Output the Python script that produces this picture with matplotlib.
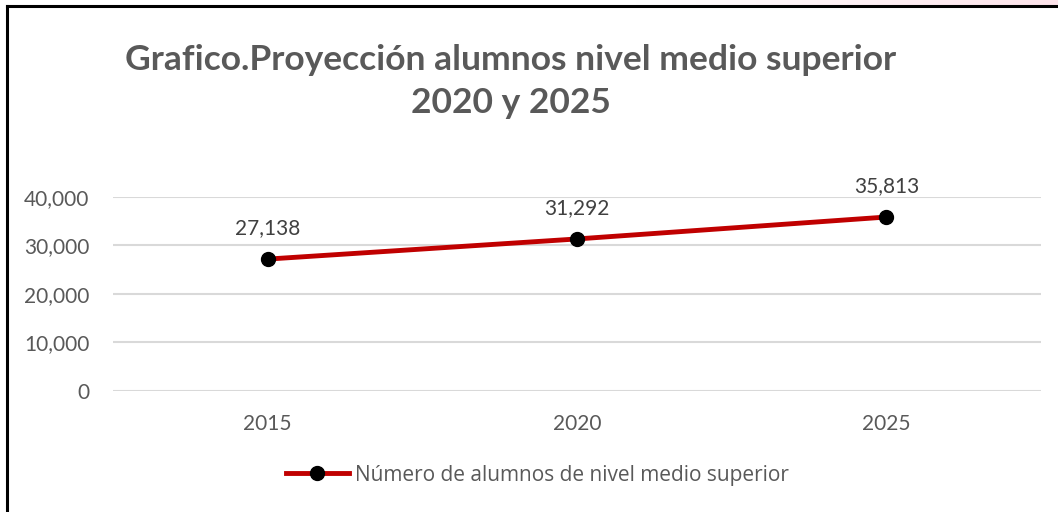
import numpy as np
import matplotlib.pyplot as plt
from matplotlib.ticker import FuncFormatter
from matplotlib.lines import Line2D

years = ['2015', '2020', '2025']
alumnos = [27138, 31292, 35813]
serie = 'Número de alumnos de nivel medio superior'
titulo = 'Grafico.Proyección alumnos nivel medio superior\n2020 y 2025'

gris = '#595959'
rojo = '#C00000'

plt.rcParams['font.family'] = ['Lato', 'DejaVu Sans']

fig = plt.figure(figsize=(10.58, 5.12), dpi=100)

# pink strip at the top right (background behind the frame)
grad = np.linspace(0, 1, 256).reshape(1, -1)
bg = fig.add_axes([0.6, 0.988, 0.4, 0.012])
bg.imshow(grad, aspect='auto', cmap=plt.matplotlib.colors.LinearSegmentedColormap.from_list(
    'p', ['#ffffff', '#fde3ea']), extent=[0, 1, 0, 1])
bg.axis('off')

# frame lines (left and top)
fig.add_artist(Line2D([0.0068, 0.0068], [0, 0.989], color='k', lw=2.2))
fig.add_artist(Line2D([0.0068, 1.0], [0.989, 0.989], color='k', lw=2.2))

ax = fig.add_axes([0.1068, 0.2369, 0.8772, 0.3789])
x = np.arange(len(years))
ax.plot(x, alumnos, color=rojo, lw=3.5, marker='o', ms=10,
        markerfacecolor='k', markeredgecolor='k', solid_capstyle='round', zorder=3)

for xi, v in zip(x, alumnos):
    ax.annotate(f'{v:,}', (xi, v), xytext=(0, 22), textcoords='offset points',
                ha='center', va='center', fontsize=15, color='#404040')

ax.set_xlim(-0.5, len(years) - 0.5)
ax.set_ylim(0, 40000)
ax.set_yticks([0, 10000, 20000, 30000, 40000])
ax.yaxis.set_major_formatter(FuncFormatter(lambda v, p: f'{int(v):,}'))
ax.set_xticks(x)
ax.set_xticklabels(years)
ax.tick_params(axis='both', length=0, labelsize=15, labelcolor=gris)
ax.tick_params(axis='y', pad=17)
ax.tick_params(axis='x', pad=17)
ax.grid(axis='y', color='#D9D9D9', lw=1.5)
ax.set_axisbelow(True)
for s in ax.spines.values():
    s.set_visible(False)

fig.text(0.483, 0.84, titulo, ha='center', va='center', fontsize=25.5,
         fontweight='bold', color=gris, linespacing=1.42)

h = Line2D([], [], color=rojo, lw=3.5, marker='o', ms=10,
           markerfacecolor='k', markeredgecolor='k')
leg = fig.legend([h], [serie], loc='center', bbox_to_anchor=(0.508, 0.072),
                 frameon=False, handlelength=3.0, handletextpad=0.3,
                 prop={'family': ['Open Sans', 'DejaVu Sans'], 'size': 15})
for t in leg.get_texts():
    t.set_color(gris)

fig.savefig('out.png', dpi=100, facecolor='white')
